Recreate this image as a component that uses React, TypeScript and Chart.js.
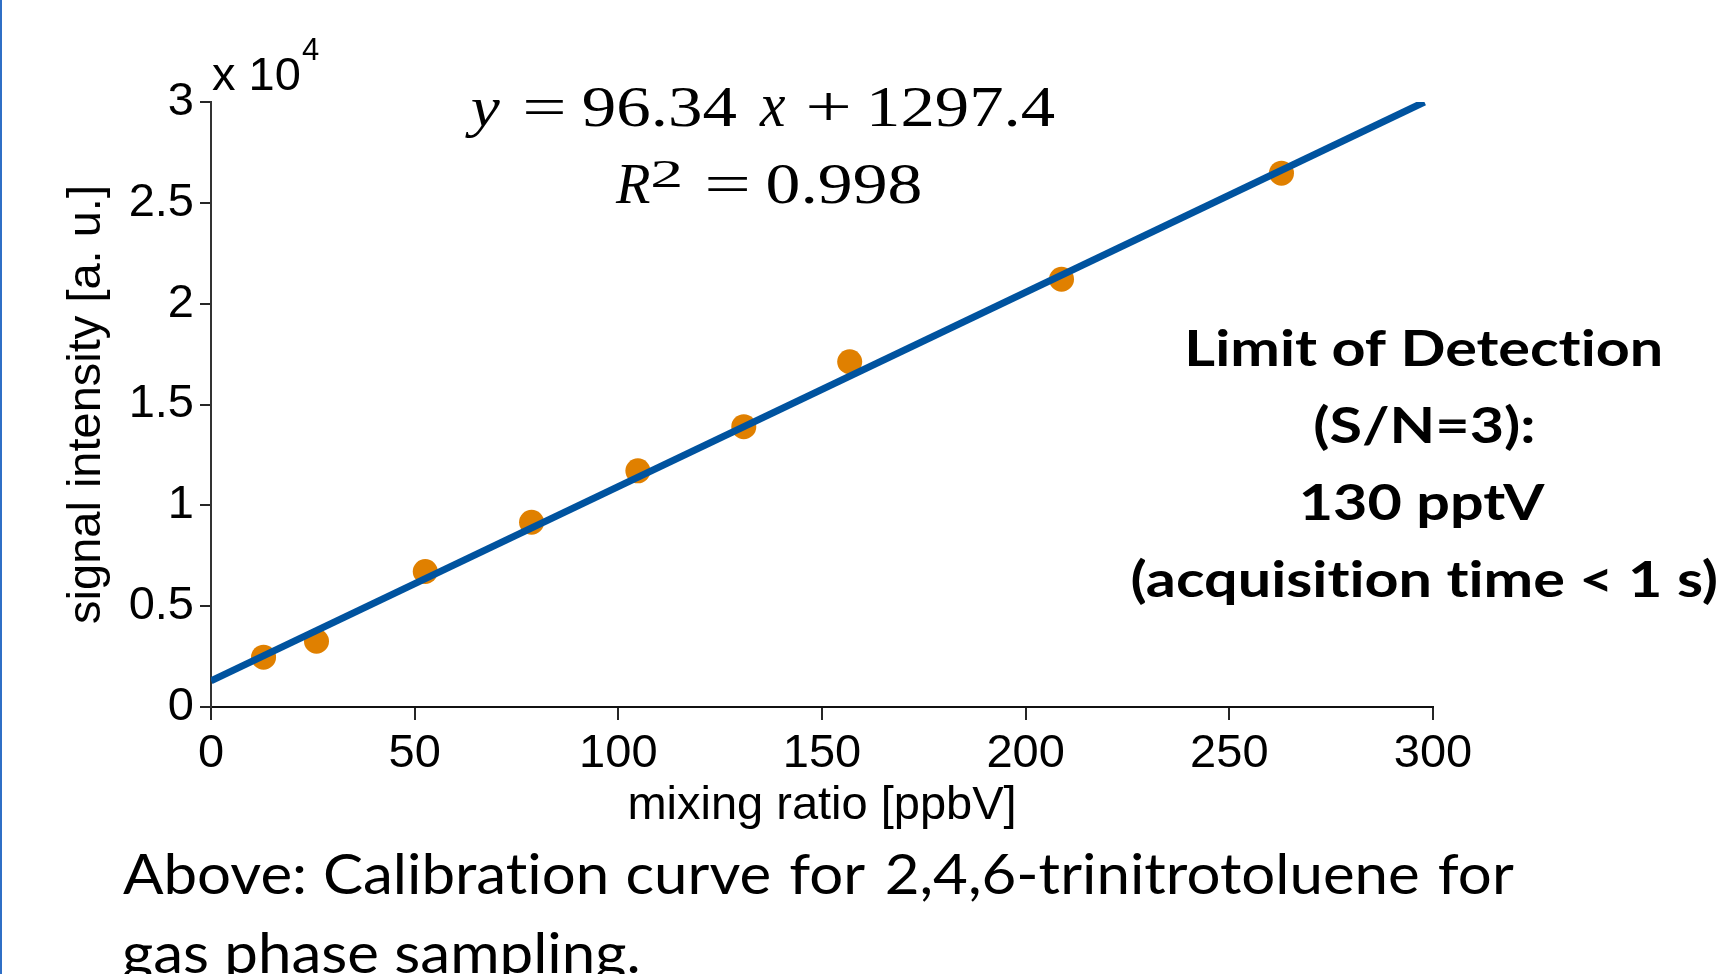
import React, { useEffect, useRef } from 'react';
import { Chart, registerables } from 'chart.js';

Chart.register(...registerables);

// ---- data ----
const mixingRatio = [12.9, 25.9, 52.6, 78.7, 104.8, 130.8, 156.8, 208.8, 262.8];
const signalIntensity = [2470, 3260, 6720, 9160, 11710, 13900, 17120, 21210, 26470];
const fitX = [0, 297.9];
const fitY = [1297.4, 30000];
const xTickLabels = ['0', '50', '100', '150', '200', '250', '300'];
const yTickLabels = ['0', '0.5', '1', '1.5', '2', '2.5', '3'];
const lodLines = ['Limit of Detection', '(S/N=3):', '130 pptV', '(acquisition time < 1 s)'];
const captionLine1 = ['Above:', 'Calibration', 'curve', 'for', '2,4,6-trinitrotoluene', 'for'];
const captionLine2 = 'gas phase sampling.';

const W = 1720;
const H = 974;

function prep(ctx: CanvasRenderingContext2D, font: string) {
  ctx.font = font;
  const c: any = ctx;
  try { c.textRendering = 'optimizeSpeed'; } catch (e) { /* ignore */ }
  try { c.letterSpacing = '0.01px'; } catch (e) { /* ignore */ }
}

function drawInk(ctx: CanvasRenderingContext2D, text: string, font: string, left: number, baseline: number, targetW?: number) {
  ctx.save();
  prep(ctx, font);
  ctx.textAlign = 'left';
  ctx.textBaseline = 'alphabetic';
  const m = ctx.measureText(text);
  const ink = m.actualBoundingBoxLeft + m.actualBoundingBoxRight;
  const s = targetW ? targetW / ink : 1;
  ctx.translate(left, baseline);
  ctx.scale(s, 1);
  ctx.fillText(text, m.actualBoundingBoxLeft, 0);
  ctx.restore();
}

function inkWidth(ctx: CanvasRenderingContext2D, text: string, font: string) {
  ctx.save();
  prep(ctx, font);
  const m = ctx.measureText(text);
  ctx.restore();
  return { ink: m.actualBoundingBoxLeft + m.actualBoundingBoxRight, abl: m.actualBoundingBoxLeft, adv: m.width };
}

const textPlugin = {
  id: 'annotText',
  afterDraw(chart: any) {
    const ctx: CanvasRenderingContext2D = chart.ctx;
    ctx.save();

    // left blue rule
    ctx.fillStyle = '#2F6FC6';
    ctx.fillRect(0, 0, 2, H);
    ctx.fillStyle = '#000';

    // exponent label "x 10^4"
    drawInk(ctx, 'x 10', '47px "Liberation Sans"', 212, 90);
    drawInk(ctx, '4', '31px "Liberation Sans"', 302, 60);

    // equation
    const serif = '58px "Liberation Serif"';
    const serifI = 'italic 58px "Liberation Serif"';
    drawInk(ctx, 'y', serifI, 465, 126, 35);
    drawInk(ctx, '=', serif, 525, 126, 38);
    drawInk(ctx, '96.34', serif, 583, 126, 154);
    drawInk(ctx, 'x', 'italic 64px "Liberation Serif"', 759, 126, 26);
    drawInk(ctx, '+', serif, 808, 126, 40);
    drawInk(ctx, '1297.4', serif, 872, 126, 183);
    drawInk(ctx, 'R', serifI, 615, 203, 35);
    drawInk(ctx, '2', '40px "Liberation Serif"', 652, 187, 28);
    drawInk(ctx, '=', serif, 707, 203, 40);
    drawInk(ctx, '0.998', serif, 768, 203, 152);

    // limit of detection block
    const lodFont = 'bold 49px Lato';
    const s0 = 472 / inkWidth(ctx, lodLines[0], lodFont).ink;
    lodLines.forEach((line, i) => {
      const w = inkWidth(ctx, line, lodFont).ink * s0;
      drawInk(ctx, line, lodFont, 1424 - w / 2, 366 + 77 * i, w);
    });

    // caption (justified first line)
    const capFont = '57px Lato';
    const sc = 515 / inkWidth(ctx, captionLine2, capFont).ink;
    const widths = captionLine1.map((t) => inkWidth(ctx, t, capFont).ink * sc);
    const total = widths.reduce((a, b) => a + b, 0);
    const gap = (1514 - 123 - total) / (captionLine1.length - 1);
    let cx = 123;
    captionLine1.forEach((t, i) => {
      drawInk(ctx, t, capFont, cx, 894, widths[i]);
      cx += widths[i] + gap;
    });
    drawInk(ctx, captionLine2, capFont, 123, 973, 515);

    ctx.restore();
  },
};

export default function App() {
  const ref = useRef<HTMLCanvasElement | null>(null);

  useEffect(() => {
    document.body.style.margin = '0';
    const canvas = ref.current;
    if (!canvas) return;
    const axisFont = { family: '"Liberation Sans", Arial, sans-serif', size: 47, lineHeight: 1.2 };
    const chart = new Chart(canvas, {
      type: 'scatter',
      data: {
        datasets: [
          {
            label: 'fit',
            data: fitX.map((x, i) => ({ x, y: fitY[i] })),
            showLine: true,
            borderColor: '#00539F',
            borderWidth: 7,
            borderCapStyle: 'butt',
            pointRadius: 0,
            pointHoverRadius: 0,
            fill: false,
          } as any,
          {
            label: 'TNT',
            data: mixingRatio.map((x, i) => ({ x, y: signalIntensity[i] })),
            backgroundColor: '#E08000',
            borderWidth: 0,
            pointRadius: 12.5,
            pointHoverRadius: 12.5,
          } as any,
        ],
      },
      options: {
        responsive: false,
        devicePixelRatio: 1,
        animation: false,
        events: [],
        layout: { padding: { left: 0, right: W - 1433, top: 102, bottom: 0 } },
        plugins: { legend: { display: false }, tooltip: { enabled: false } },
        scales: {
          x: {
            type: 'linear',
            min: 0,
            max: 300,
            afterFit: (s: any) => { s.height = H - 707; },
            ticks: {
              stepSize: 50,
              autoSkip: false,
              maxRotation: 0,
              padding: 6,
              color: '#000',
              font: axisFont,
              callback: (_v: any, i: number) => xTickLabels[i],
            },
            grid: { drawOnChartArea: false, drawTicks: true, tickLength: 13, color: '#262626', lineWidth: 2 },
            border: { display: true, color: '#111', width: 2 },
            title: {
              display: true,
              text: 'mixing ratio [ppbV]',
              color: '#000',
              font: axisFont,
              padding: { top: 0, bottom: 140 },
            },
          },
          y: {
            type: 'linear',
            min: 0,
            max: 30000,
            afterFit: (s: any) => { s.width = 211; },
            ticks: {
              stepSize: 5000,
              autoSkip: false,
              padding: 6,
              color: '#000',
              font: axisFont,
              callback: (_v: any, i: number) => yTickLabels[i],
            },
            grid: { drawOnChartArea: false, drawTicks: true, tickLength: 11, color: '#262626', lineWidth: 2 },
            border: { display: true, color: '#333', width: 2 },
            title: {
              display: true,
              text: 'signal intensity [a. u.]',
              color: '#000',
              font: axisFont,
              padding: { top: 59, bottom: 0 },
            },
          },
        },
      } as any,
      plugins: [textPlugin],
    });
    return () => chart.destroy();
  }, []);

  return (
    <div style={{ width: W, height: H, position: 'relative', background: '#fff', overflow: 'hidden' }}>
      <canvas ref={ref} width={W} height={H} style={{ display: 'block', width: W, height: H }} />
    </div>
  );
}
